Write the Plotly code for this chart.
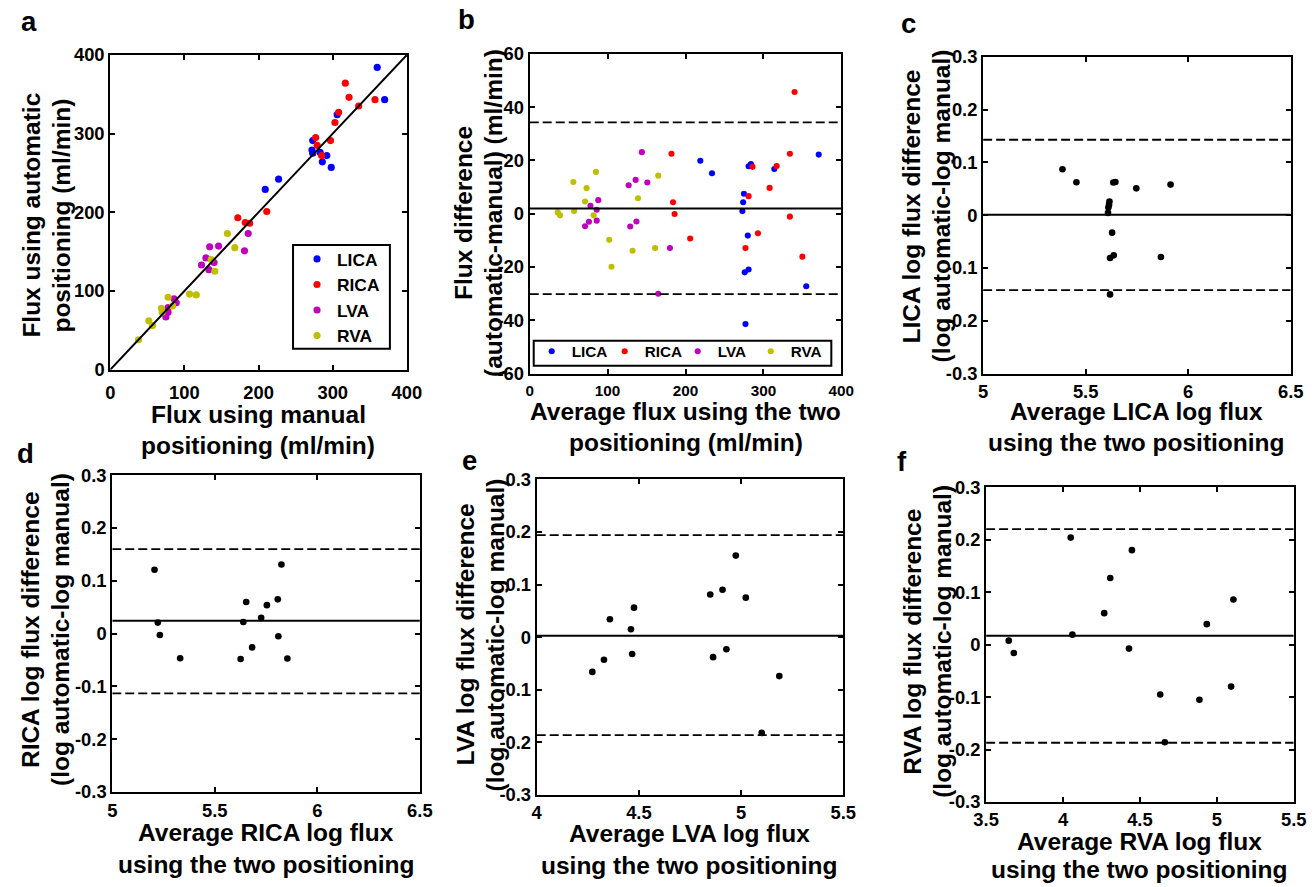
import plotly.graph_objects as go

# ---------------- panel a: automatic vs manual flux (ml/min) ----------------
lica_manual = [360, 370, 306, 273, 272, 273, 283, 292, 286, 298, 227, 209]
lica_auto = [384, 343, 324, 291, 279, 275, 276, 272, 264, 257, 242, 229]
rica_manual = [317, 322, 335, 357, 308, 303, 297, 277, 279, 285, 211, 172, 182, 188]
rica_auto = [364, 346, 335, 343, 327, 314, 291, 295, 285, 272, 201, 193, 187, 186]
lva_manual = [186, 181, 134, 146, 129, 140, 123, 133, 86, 89, 78, 78, 75]
lva_auto = [173, 151, 156, 157, 142, 136, 133, 127, 90, 85, 79, 73, 67]
rva_manual = [158, 168, 136, 141, 107, 116, 78, 69, 70, 84, 52, 57, 38]
rva_auto = [173, 155, 140, 125, 96, 95, 92, 78, 73, 81, 62, 56, 38]
identity_line = [0, 400]

# ---------------- panel b: Bland-Altman of flux (ml/min) ----------------
b_lica_mean = [219, 234, 275, 274, 273, 281, 284, 280, 276, 281, 277, 314, 371, 355]
b_lica_diff = [19.9, 15.2, 7.5, 4.3, 1.0, 17.8, 18.6, -8.2, -22.0, -20.9, -41.4, 16.8, 22.2, -27.2]
b_rica_mean = [340, 334, 317, 308, 286, 281, 293, 277, 334, 350, 182, 184, 186, 206]
b_rica_diff = [45.7, 22.5, 17.9, 9.7, 17.6, 6.6, -7.3, -12.9, -1.1, -16.1, 22.5, 4.3, -0.1, -9.3]
b_lva_mean = [144, 136, 127, 151, 137, 129, 180, 165, 88, 86, 86, 78, 76, 71]
b_lva_diff = [23.1, 12.7, 10.7, 11.7, -2.9, -4.8, -12.9, -30.0, 5.1, 1.5, -2.6, 3.0, -3.0, -4.7]
b_rva_mean = [165, 139, 132, 161, 102, 105, 85, 56, 73, 71, 57, 82, 36, 39]
b_rva_diff = [14.3, 5.8, -13.9, -12.9, -9.8, -19.9, 15.7, 11.9, 9.6, 4.6, 1.0, -0.6, 0.5, -0.6]
b_bias = 2.0
b_upper = 34.3
b_lower = -30.2
b_xrange = [0, 400]

# ---------------- panels c-f: Bland-Altman of log flux ----------------
lica_logmean = [5.387, 5.455, 5.635, 5.645, 5.747, 5.914, 5.616, 5.614, 5.611, 5.609,
                5.629, 5.619, 5.637, 5.867, 5.619]
lica_logdiff = [0.087, 0.0625, 0.062, 0.063, 0.051, 0.058, 0.026, 0.020, 0.0145, 0.0044,
                -0.033, -0.081, -0.076, -0.079, -0.150]
lica_bias, lica_upper, lica_lower = 0.001, 0.143, -0.142
lica_xrange = [5, 6.5]

rica_logmean = [5.206, 5.222, 5.232, 5.331, 5.626, 5.653, 5.639, 5.682, 5.726, 5.754,
                5.807, 5.825, 5.810, 5.854]
rica_logdiff = [0.121, 0.021, -0.0025, -0.0465, -0.048, 0.060, 0.022, -0.026, 0.030, 0.054,
                0.065, 0.131, -0.005, -0.047]
rica_bias, rica_upper, rica_lower = 0.0245, 0.160, -0.113
rica_xrange = [5, 6.5]

lva_logmean = [4.272, 4.329, 4.358, 4.461, 4.476, 4.467, 4.849, 4.909, 4.974, 5.023,
               4.863, 4.928, 5.187, 5.101]
lva_logdiff = [-0.066, -0.043, 0.034, 0.015, 0.056, -0.032, 0.081, 0.090, 0.155, 0.075,
               -0.038, -0.023, -0.074, -0.182]
lva_bias, lva_upper, lva_lower = 0.0025, 0.194, -0.186
lva_xrange = [4, 5.5]

rva_logmean = [3.647, 3.680, 4.050, 4.061, 4.268, 4.307, 4.448, 4.429, 4.632, 4.662,
               4.887, 4.935, 5.093, 5.108]
rva_logdiff = [0.0076, -0.016, 0.204, 0.019, 0.060, 0.127, 0.180, -0.0076, -0.095, -0.186,
               -0.105, 0.039, -0.080, 0.086]
rva_bias, rva_upper, rva_lower = 0.017, 0.220, -0.187
rva_xrange = [3.5, 5.5]

# ---------------- tick labels ----------------
flux_ticks = [0, 100, 200, 300, 400]
diff_ticks = [-60, -40, -20, 0, 20, 40, 60]
logdiff_ticks = [-0.3, -0.2, -0.1, 0, 0.1, 0.2, 0.3]
logdiff_labels = ["-0.3", "-0.2", "-0.1", "0", "0.1", "0.2", "0.3"]
ica_ticks = [5, 5.5, 6, 6.5]
ica_labels = ["5", "5.5", "6", "6.5"]
lva_ticks = [4, 4.5, 5, 5.5]
lva_labels = ["4", "4.5", "5", "5.5"]
rva_ticks = [3.5, 4, 4.5, 5, 5.5]
rva_labels = ["3.5", "4", "4.5", "5", "5.5"]

# ---------------- page geometry ----------------
W, H = 1315, 887
# layout positions below are written in final-image pixels; they are mapped
# onto the page through a small uniform scale and offset
S, OX, OY = 0.98, 10.6, 9.0
FONT = "Liberation Sans, Arial, Helvetica, sans-serif"
COLORS = {"LICA": "rgb(0,0,255)", "RICA": "rgb(255,0,0)",
          "LVA": "rgb(191,0,191)", "RVA": "rgb(191,191,0)"}


def fx(px):
    return (px - OX) / S / W


def fy(py):
    return 1 - (py - OY) / S / H


def fs(size):
    return round(size / S, 2)


def bold(labels):
    return ["<b>%s</b>" % s for s in labels]


fig = go.Figure()

# panel a scatter
for name, xs, ys in [("LICA", lica_manual, lica_auto), ("RICA", rica_manual, rica_auto),
                     ("LVA", lva_manual, lva_auto), ("RVA", rva_manual, rva_auto)]:
    fig.add_trace(go.Scatter(x=xs, y=ys, mode="markers", name=name,
                             marker=dict(color=COLORS[name], size=fs(7)),
                             xaxis="x", yaxis="y", legend="legend"))
fig.add_trace(go.Scatter(x=identity_line, y=identity_line, mode="lines",
                         line=dict(color="black", width=2), showlegend=False,
                         xaxis="x", yaxis="y"))

# panel b scatter
for name, xs, ys in [("LICA", b_lica_mean, b_lica_diff), ("RICA", b_rica_mean, b_rica_diff),
                     ("LVA", b_lva_mean, b_lva_diff), ("RVA", b_rva_mean, b_rva_diff)]:
    fig.add_trace(go.Scatter(x=xs, y=ys, mode="markers", name=name,
                             marker=dict(color=COLORS[name], size=fs(6)),
                             xaxis="x2", yaxis="y2", legend="legend2"))


def add_limits(xr, bias, upper, lower, ax):
    fig.add_trace(go.Scatter(x=xr, y=[bias, bias], mode="lines",
                             line=dict(color="black", width=2), showlegend=False,
                             xaxis="x" + ax, yaxis="y" + ax))
    for v in (upper, lower):
        fig.add_trace(go.Scatter(x=xr, y=[v, v], mode="lines",
                                 line=dict(color="black", width=1.8, dash="9px,4px"),
                                 showlegend=False, xaxis="x" + ax, yaxis="y" + ax))


add_limits(b_xrange, b_bias, b_upper, b_lower, "2")

for ax, xs, ys, xr, bias, up, lo in [
        ("3", lica_logmean, lica_logdiff, lica_xrange, lica_bias, lica_upper, lica_lower),
        ("4", rica_logmean, rica_logdiff, rica_xrange, rica_bias, rica_upper, rica_lower),
        ("5", lva_logmean, lva_logdiff, lva_xrange, lva_bias, lva_upper, lva_lower),
        ("6", rva_logmean, rva_logdiff, rva_xrange, rva_bias, rva_upper, rva_lower)]:
    fig.add_trace(go.Scatter(x=xs, y=ys, mode="markers",
                             marker=dict(color="black", size=fs(6.5)), showlegend=False,
                             xaxis="x" + ax, yaxis="y" + ax))
    add_limits(xr, bias, up, lo, ax)


def axis(dom, rng, anchor, tickvals, ticktext, size=18, standoff=0):
    return dict(domain=dom, range=rng, anchor=anchor, showline=True, linecolor="black",
                linewidth=2, mirror="ticks", ticks="inside", ticklen=5, tickwidth=1.5,
                tickcolor="black", showgrid=False, zeroline=False,
                tickmode="array", tickvals=tickvals, ticktext=bold(ticktext),
                ticklabelstandoff=standoff,
                tickfont=dict(family=FONT, size=fs(size), color="black", weight="bold"))


flux_labels = [str(v) for v in flux_ticks]
diff_labels = [str(v) for v in diff_ticks]

# panel boxes in image pixels: (left, right, top, bottom), x-range, y-range,
# (x ticks, x labels, x tick size, x label standoff), (y ticks, y labels)
panels = {
    "1": ((108, 405, 53, 369), [0, 400], [0, 400], (flux_ticks, flux_labels, 18, 5),
          (flux_ticks, flux_labels)),
    "2": ((528, 840, 52, 373), [0, 400], [-60, 60], (flux_ticks, flux_labels, 15, 2),
          (diff_ticks, diff_labels)),
    "3": ((982, 1290, 55, 373), lica_xrange, [-0.3, 0.3], (ica_ticks, ica_labels, 18, 0),
          (logdiff_ticks, logdiff_labels)),
    "4": ((110, 418, 475, 793), rica_xrange, [-0.3, 0.3], (ica_ticks, ica_labels, 18, 1),
          (logdiff_ticks, logdiff_labels)),
    "5": ((535, 842, 479, 796), lva_xrange, [-0.3, 0.3], (lva_ticks, lva_labels, 18, 0),
          (logdiff_ticks, logdiff_labels)),
    "6": ((985, 1293, 487, 803), rva_xrange, [-0.3, 0.3], (rva_ticks, rva_labels, 18, 0),
          (logdiff_ticks, logdiff_labels)),
}

layout = dict(width=W, height=H, margin=dict(l=0, r=0, t=0, b=0),
              plot_bgcolor="white", paper_bgcolor="white",
              font=dict(family=FONT, color="black"))
for k, ((l, r, t, b), xr, yr, xt, yt) in panels.items():
    suffix = "" if k == "1" else k
    layout["xaxis" + suffix] = axis([fx(l), fx(r)], xr, "y" + suffix, xt[0], xt[1],
                                    xt[2], xt[3])
    layout["yaxis" + suffix] = axis([fy(b), fy(t)], yr, "x" + suffix, yt[0], yt[1])

# legend boxes are drawn as framed rectangles; the legends sit inside them
layout["shapes"] = [
    dict(type="rect", xref="paper", yref="paper", layer="above",
         x0=fx(291), x1=fx(388), y0=fy(348), y1=fy(244),
         line=dict(color="black", width=2), fillcolor="white"),
    dict(type="rect", xref="paper", yref="paper", layer="above",
         x0=fx(532), x1=fx(830), y0=fy(365), y1=fy(340),
         line=dict(color="black", width=2), fillcolor="white"),
]
layout["legend"] = dict(x=fx(295), y=fy(240), xanchor="left", yanchor="top",
                        borderwidth=0, bgcolor="rgba(0,0,0,0)", tracegroupgap=0,
                        font=dict(family=FONT, size=fs(17), color="black", weight="bold"))
layout["legend2"] = dict(x=fx(530), y=fy(334), xanchor="left", yanchor="top",
                         orientation="h", borderwidth=0, bgcolor="rgba(0,0,0,0)",
                         entrywidth=28, entrywidthmode="pixels",
                         font=dict(family=FONT, size=fs(15), color="black", weight="bold"))

title_font = dict(family=FONT, size=fs(24), color="black", weight="bold")
letter_font = dict(family=FONT, size=fs(27), color="black", weight="bold")

annotations = []
for txt, x, y in [("a", 27, 20), ("b", 465, 18), ("c", 907, 22),
                  ("d", 23, 453), ("e", 468, 460), ("f", 901, 461)]:
    annotations.append(dict(text=txt, x=fx(x), y=fy(y), xref="paper", yref="paper",
                            showarrow=False, font=letter_font,
                            xanchor="center", yanchor="middle"))

# horizontal axis titles, one annotation per line: (text, x centre, y centre)
xtitles = [
    ("Flux using manual", 256, 414), ("positioning (ml/min)", 256, 445),
    ("Average flux using the two", 684, 411), ("positioning (ml/min)", 684, 442),
    ("Average LICA log flux", 1136, 411), ("using the two positioning", 1136, 442),
    ("Average RICA log flux", 264, 834), ("using the two positioning", 264, 866),
    ("Average LVA log flux", 688, 835), ("using the two positioning", 688, 867),
    ("Average RVA log flux", 1139, 843), ("using the two positioning", 1139, 871),
]
for txt, x, y in xtitles:
    annotations.append(dict(text=txt, x=fx(x), y=fy(y), xref="paper", yref="paper",
                            showarrow=False, font=title_font,
                            xanchor="center", yanchor="middle"))

# vertical axis titles, one annotation per line: (text, x centre, y centre)
ytitles = [
    ("Flux using automatic", 29, 214), ("positioning (ml/min)", 59, 214),
    ("Flux difference", 461, 212), ("(automatic-manual) (ml/min)", 491, 212),
    ("LICA log flux difference", 910, 205), ("(log automatic-log manual)", 940, 205),
    ("RICA log flux difference", 28, 630), ("(log automatic-log manual)", 58, 630),
    ("LVA log flux difference", 464, 635), ("(log automatic-log manual)", 494, 635),
    ("RVA log flux difference", 911, 642), ("(log automatic-log manual)", 941, 642),
]
for txt, x, y in ytitles:
    annotations.append(dict(text=txt, x=fx(x), y=fy(y), xref="paper", yref="paper",
                            showarrow=False, font=title_font, textangle=-90,
                            xanchor="center", yanchor="middle"))

layout["annotations"] = annotations
fig.update_layout(**layout)
fig.write_html("out.html", config={"displayModeBar": False})
